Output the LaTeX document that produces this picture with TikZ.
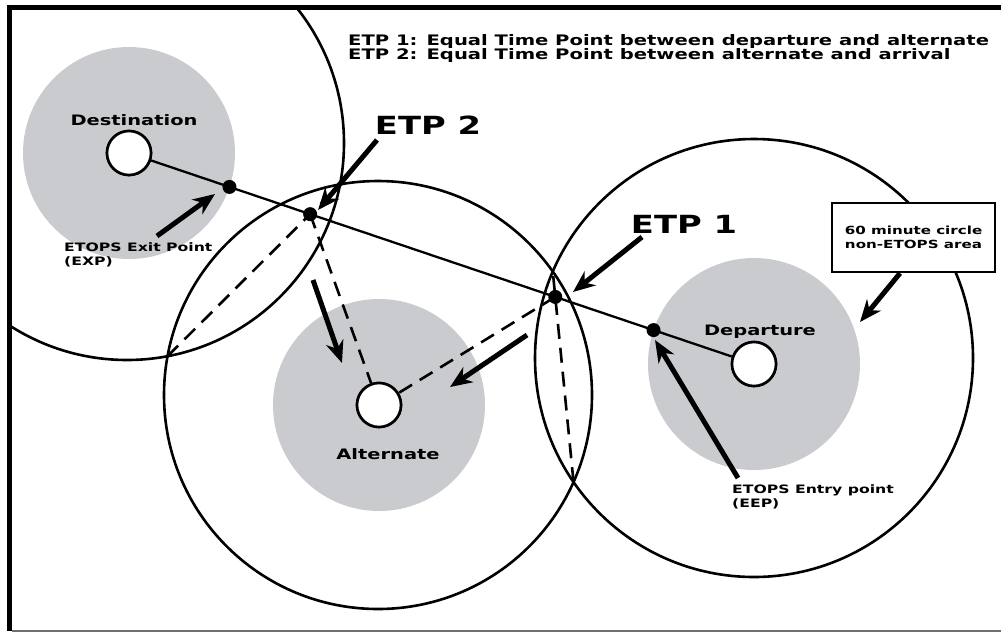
\documentclass[tikz,border=0pt]{standalone}
\usepackage{fontspec}
\newfontfamily\ef{DejaVu Sans}[FakeStretch=1.35]
\usetikzlibrary{arrows.meta,intersections,calc}
\definecolor{diskgray}{RGB}{201,203,206}
\definecolor{framegray}{RGB}{110,110,110}
\begin{document}
\begin{tikzpicture}[x=1pt,y=-1pt,
  disk/.style={fill=diskgray,draw=none},
  ring/.style={draw=black,line width=2.6pt},
  port/.style={circle,draw=black,fill=white,line width=2.6pt,minimum size=44pt,inner sep=0pt},
  dot/.style={circle,fill=black,minimum size=14pt,inner sep=0pt},
  pointer/.style={line width=5pt,-{Stealth[length=22pt,width=18pt,inset=7pt]}},
  dashline/.style={dash pattern=on 15pt off 9pt,line width=2.6pt},
  route/.style={line width=2.3pt},
  legend/.style={font=\ef\bfseries\fontsize{14.5}{15}\selectfont,inner sep=0pt,anchor=base west},
  big/.style={font=\ef\bfseries\fontsize{25}{28}\selectfont,inner sep=0pt},
  place/.style={font=\ef\bfseries\fontsize{14.4}{16}\selectfont,inner sep=0pt},
  small/.style={font=\ef\bfseries\fontsize{11.6}{14}\selectfont,inner sep=0pt,align=left},
  boxtext/.style={font=\ef\bfseries\fontsize{11.2}{14.5}\selectfont,inner sep=0pt,align=center}
]
\useasboundingbox (0,0) rectangle (1001,633);
% frame
\fill[white] (0,0) rectangle (1001,633);

% gray areas
\fill[disk] (129,153) circle (106);
\fill[disk] (379,405) circle (106);
\fill[disk] (754,364) circle (106);

% 120 minute circles (clipped to the frame)
\path[name path=destC] (127,143) circle (217);
\path[name path=altC] (378,395) circle (214);
\path[name path=depC] (754,358) circle (219);
\begin{scope}
\clip (12,10) rectangle (1001,631);
\draw[ring] (127,143) circle (217);
\draw[ring] (378,395) circle (214);
\draw[ring] (754,358) circle (219);
\end{scope}
\path[name path=destG] (129,153) circle (106);
\path[name path=depG] (754,364) circle (106);

% airports
\node[port] (dest) at (129,153) {};
\node[port] (alt) at (379,405) {};
\node[port] (dep) at (754,364) {};

% route
\draw[route,name path=routeP] (dest) -- (dep);

% equal time chords
\path[name intersections={of=destC and altC,by={la,lb}}];
\path[name intersections={of=altC and depC,by={ma,mb}}];
\draw[dashline,name path=chordA] (la) -- (lb);
\draw[dashline,name path=chordB] (ma) -- (mb);
\path[name intersections={of=routeP and chordA,by={etpii}}];
\path[name intersections={of=routeP and chordB,by={etpi}}];
\path[name intersections={of=routeP and destG,by={exp}}];
\path[name intersections={of=routeP and depG,by={eep}}];

\draw[dashline] (etpii) -- (alt);
\draw[dashline] (etpi) -- (alt);

\node[dot] (dEXP) at (exp) {};
\node[dot] (dETP2) at (etpii) {};
\node[dot] (dETP1) at (etpi) {};
\node[dot] (dEEP) at (eep) {};
\node[port] at (dest) {};
\node[port] at (alt) {};
\node[port] at (dep) {};

% frame bars
\fill[black] (7,5) rectangle (1001,10);
\fill[black] (7,5) rectangle (12,631);
\draw[framegray,line width=1.5pt] (12,631) -- (1001,631);

% labels
\node[place] (tDest) at (134,120) {Destination};
\node[place] (tDep) at (760,332) {Departure};
\node[place] (tAlt) at (388,454) {Alternate};
\node[big] (tETP2) at (428,125) {ETP 2};
\node[big] (tETP1) at (684,224) {ETP 1};
\node[legend] (leg1) at (348,45) {ETP 1: Equal Time Point between departure and alternate};
\node[legend] (leg2) at (348,59) {ETP 2: Equal Time Point between alternate and arrival};
\node[small,anchor=west] (tEXP) at (64,255) {ETOPS Exit Point\\(EXP)};
\node[small,anchor=west] (tEEP) at (732,497) {ETOPS Entry point\\(EEP)};
\node[draw=black,line width=2.4pt,fill=white,minimum width=163pt,minimum height=69pt,inner sep=0pt] (box) at (913.5,237.5) {};
\node[boxtext] at (box.center) {60 minute circle\\non-ETOPS area};

% pointer arrows
\coordinate (a2s) at (377,140); \coordinate (a2e) at (318,210);
\coordinate (a1s) at (642,237); \coordinate (a1e) at (573,292);
\coordinate (axs) at (157,236); \coordinate (axe) at (215,194);
\coordinate (aes) at (738,478); \coordinate (aee) at (655,340);
\coordinate (abe) at (860,322);
\coordinate (ad2s) at (313,280); \coordinate (ad2e) at (342,363);
\coordinate (ad1s) at (527,335); \coordinate (ad1e) at (450,387);
\draw[pointer] (a2s) -- (a2e);
\draw[pointer] (a1s) -- (a1e);
\draw[pointer] (axs) -- (axe);
\draw[pointer] (aes) -- (aee);
\draw[pointer] (box.south -| 900,0) -- (abe);
\draw[pointer] (ad2s) -- (ad2e);
\draw[pointer] (ad1s) -- (ad1e);
\end{tikzpicture}
\end{document}
